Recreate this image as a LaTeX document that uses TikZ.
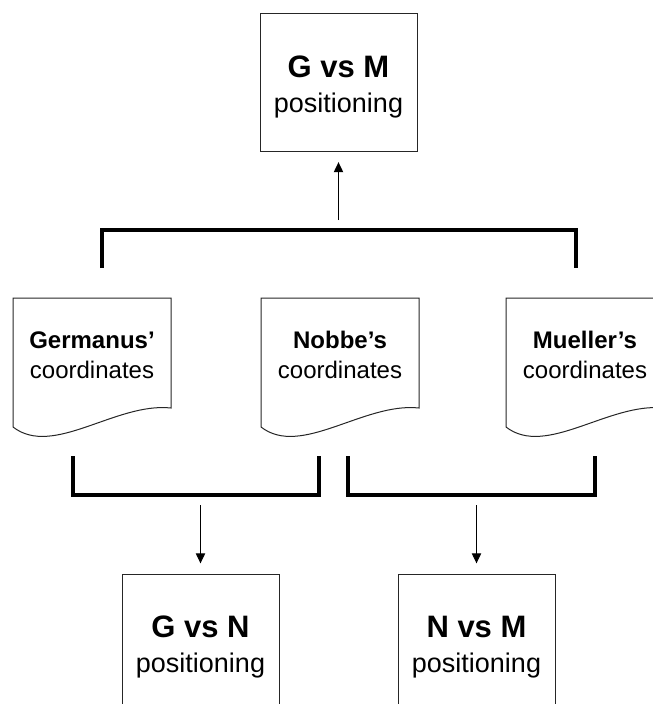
\documentclass[tikz,border=0pt]{standalone}
\usepackage{fontspec}
\setmainfont{Liberation Sans}
\usetikzlibrary{arrows.meta}

\tikzset{
  posbox/.style={draw=black!85, line width=0.75pt, minimum width=117.75pt, minimum height=103.5pt, inner sep=0pt},
  boxtext/.style={align=center, font=\fontsize{20.25}{26}\selectfont},
  doctext/.style={align=center, font=\fontsize{18}{22.5}\selectfont},
  docline/.style={draw=black!85, line width=0.75pt},
  bracket/.style={line width=3pt},
  flow/.style={line width=0.75pt, -{Triangle[length=7.5pt,width=7pt]}, shorten <=7.5pt, shorten >=8pt}
}

\begin{document}
\begin{tikzpicture}[x=0.75pt,y=-0.75pt]
\clip (0,0) rectangle (653,704);

% result boxes
\node[posbox] (gmbox) at (338.5,82) {};
\node[boxtext] (gmtext) at (338.5,87) {{\fontsize{23.25}{26}\selectfont\bfseries G vs M}\\positioning};
\node[posbox, anchor=north] (gnbox) at (200.5,574) {};
\node[boxtext] (gntext) at (200.5,647) {{\fontsize{23.25}{26}\selectfont\bfseries G vs N}\\positioning};
\node[posbox, anchor=north] (nmbox) at (476.5,574) {};
\node[boxtext] (nmtext) at (476.5,647) {{\fontsize{23.25}{26}\selectfont\bfseries N vs M}\\positioning};

% coordinate documents
\foreach \x in {13,261,506}
  {
  \draw[docline] (\x,298) -- (\x+158,298) -- (\x+158,408)
    .. controls (\x+103,402) and (\x+40,458) .. (\x,427) -- cycle;
  }
\node[doctext] (germanus) at (92,355) {{\bfseries Germanus’}\\coordinates};
\node[doctext] (nobbe) at (340,355) {{\bfseries Nobbe’s}\\coordinates};
\node[doctext] (mueller) at (585,355) {{\bfseries Mueller’s}\\coordinates};

% brackets
\coordinate (topbar) at (339,230);
\coordinate (gnbar) at (196,495);
\coordinate (nmbar) at (471.5,495);
\draw[bracket] (102,268) -- (102,230) -- (576,230) -- (576,268);
\draw[bracket] (73,456) -- (73,495) -- (319,495) -- (319,456);
\draw[bracket] (348,456) -- (348,495) -- (595,495) -- (595,456);

% arrows
\draw[flow] (gmbox.south |- topbar) -- (gmbox.south);
\draw[flow] (gnbox.north |- gnbar) -- (gnbox.north);
\draw[flow] (nmbox.north |- nmbar) -- (nmbox.north);
\end{tikzpicture}
\end{document}
